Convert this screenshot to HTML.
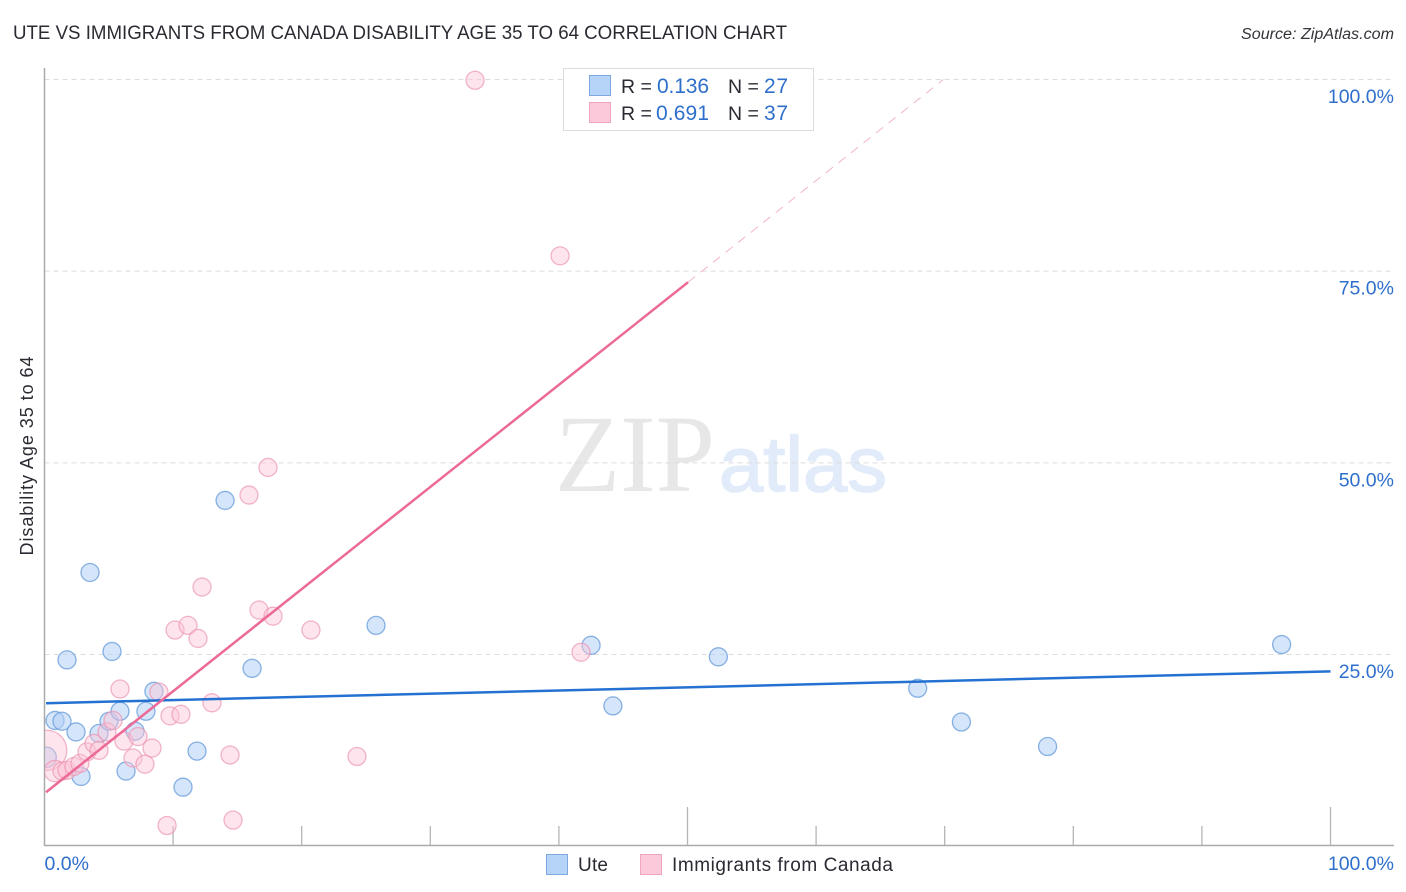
<!DOCTYPE html>
<html lang="en">
<head>
<meta charset="utf-8">
<title>Ute vs Immigrants from Canada Disability Age 35 to 64 Correlation Chart</title>
<style>
html,body{margin:0;padding:0;background:#fff;width:1406px;height:892px;overflow:hidden}
svg{display:block;font-family:"Liberation Sans",sans-serif}
</style>
</head>
<body>
<svg id="chart" xmlns="http://www.w3.org/2000/svg" width="1406" height="892" viewBox="0 0 1406 892">
  <text x="13" y="39" font-size="19.5" fill="#2a2a33" textLength="774" lengthAdjust="spacingAndGlyphs">UTE VS IMMIGRANTS FROM CANADA DISABILITY AGE 35 TO 64 CORRELATION CHART</text>
  <text x="1241" y="39" font-size="15.5" font-style="italic" fill="#33333a" textLength="153" lengthAdjust="spacingAndGlyphs">Source: ZipAtlas.com</text>
  <g>
    <text x="555" y="491" font-family="'Liberation Serif',serif" font-size="110" fill="#e7e7e7" textLength="160" lengthAdjust="spacingAndGlyphs">ZIP</text>
    <text x="719" y="491" font-size="78" fill="#e2ebf9" stroke="#e2ebf9" stroke-width="1.5" textLength="168" lengthAdjust="spacingAndGlyphs">atlas</text>
  </g>
  <g id="grid"></g>
  <g id="axes"></g>
  <svg x="45" y="60" width="1361" height="786" viewBox="45 60 1361 786" overflow="hidden">
    <g id="points-ute"></g>
    <g id="points-imm"></g>
  </svg>
  <g id="trends"></g>
  <text transform="translate(33 456) rotate(-90)" font-size="18" fill="#2a2a33" text-anchor="middle" textLength="199">Disability Age 35 to 64</text>

  <g>
    <rect x="563.5" y="68.5" width="250" height="62" fill="#fff" stroke="#dcdcdc" stroke-width="1"/>
    <rect x="589.5" y="75.5" width="21" height="20" fill="#b6d3f8" stroke="#7ea9e0"/>
    <rect x="589.5" y="102.5" width="21" height="20" fill="#fcc9da" stroke="#efa5bf"/>
    <text x="621" y="93" font-size="19.5" fill="#2a2a33">R =</text>
    <text x="657" y="93" font-size="21" fill="#2f6fcc" textLength="52">0.136</text>
    <text x="728" y="93" font-size="19.5" fill="#2a2a33">N =</text>
    <text x="764" y="93" font-size="21" fill="#2f6fcc" textLength="24">27</text>
    <text x="621" y="120" font-size="19.5" fill="#2a2a33">R =</text>
    <text x="656" y="120" font-size="21" fill="#2f6fcc" textLength="53">0.691</text>
    <text x="728" y="120" font-size="19.5" fill="#2a2a33">N =</text>
    <text x="764" y="120" font-size="21" fill="#2f6fcc" textLength="24">37</text>
  </g>

  <g>
    <rect x="546.5" y="854.5" width="21" height="20" fill="#b6d3f8" stroke="#7ea9e0"/>
    <text x="578" y="871" font-size="19" fill="#2a2a33" textLength="30">Ute</text>
    <rect x="640.5" y="854.5" width="21" height="20" fill="#fcc9da" stroke="#efa5bf"/>
    <text x="672" y="871" font-size="19" fill="#2a2a33" textLength="221">Immigrants from Canada</text>
  </g>
</svg>
<script>
// Chart data (percent values)
const uteX = [0.12,0.82,1.36,2.45,1.75,2.84,3.54,4.24,5.02,5.25,5.87,6.34,7.04,7.89,8.51,10.77,11.86,14.04,16.14,25.78,42.5,44.2,52.4,67.9,71.3,78.0,96.2];
const uteY = [11.6,16.4,16.3,14.9,24.3,9.1,35.7,14.7,16.3,25.4,17.6,9.8,15.0,17.6,20.2,7.7,12.4,45.1,23.2,28.8,26.2,18.3,24.7,20.6,16.2,13.0,26.3];
const immX = [0.17,0.82,1.36,1.75,2.29,2.76,3.3,3.85,4.24,4.86,5.33,6.18,7.27,6.88,7.81,8.36,5.87,8.9,9.76,10.61,13.02,14.43,9.53,14.66,10.15,11.16,11.94,12.25,15.9,17.38,16.68,17.77,20.72,24.3,41.72,40.09,33.48];
const immY = [12.5,9.8,9.8,9.9,10.4,10.8,12.3,13.4,12.5,14.9,16.4,13.7,14.3,11.5,10.7,12.8,20.5,20.1,17.0,17.2,18.7,11.9,2.7,3.4,28.2,28.8,27.1,33.8,45.8,49.4,30.8,30.0,28.2,11.7,25.3,77.0,99.9];
const immWeight = [5,1.4,1,1,1,1,1,1,1,1,1,1,1,1,1,1,1,1,1,1,1,1,1,1,1,1,1,1,1,1,1,1,1,1,1,1,1];
const uteWeight = [1.3,1,1,1,1,1,1,1,1,1,1,1,1,1,1,1,1,1,1,1,1,1,1,1,1,1,1];
const uteTrendX = [0.12,100];
const uteTrendY = [18.65,22.8];
const immTrendX = [0.12,50.04];
const immTrendY = [7.04,73.56];
const immDashX = [50.04,69.9];
const immDashY = [73.56,100];
const xTicks = [10,20,30,40,50,60,70,80,90,100];
const xMajorTicks = [50,100];
const yTicks = [25,50,75,100];
const yTickLabels = ['25.0%','50.0%','75.0%','100.0%'];
const xEndValues = [0,100];
const xEndLabels = ['0.0%','100.0%'];

const NS = 'http://www.w3.org/2000/svg';
function sx(v){ return 44.5 + v * 12.86; }
function sy(v){ return 846.2 - v * 7.667; }
function radius(w){ return 9 * Math.sqrt(w); }
function make(tag, parent, attrs){
  const el = document.createElementNS(NS, tag);
  Object.keys(attrs).forEach(function(k){ el.setAttribute(k, attrs[k]); });
  parent.appendChild(el);
  return el;
}

const gridG = document.getElementById('grid');
const axesG = document.getElementById('axes');

yTicks.forEach(function(v, i){
  const line = make('line', gridG, {x1:44.5, x2:1394, y1:sy(v), y2:sy(v), stroke:'#dcdcdc', 'stroke-width':1, 'stroke-dasharray':'5 4'});
  
  
  const t = make('text', axesG, {x:1394, y:sy(v) + 23.5, 'font-size':19.5, fill:'#2f6fcc', 'text-anchor':'end'});
  
  
  t.textContent = yTickLabels[i];
});

const yAxis = make('line', axesG, {x1:44.5, x2:44.5, y1:68, y2:846, stroke:'#aaaaaa', 'stroke-width':1.5});


const xAxis = make('line', axesG, {x1:44, x2:1394, y1:845.5, y2:845.5, stroke:'#aaaaaa', 'stroke-width':1.5});



xTicks.forEach(function(v){
  const top = xMajorTicks.indexOf(v) >= 0 ? 807 : 826;
  const tick = make('line', axesG, {x1:sx(v), x2:sx(v), y1:top, y2:845, stroke:'#b5b5b5', 'stroke-width':1.3});
  
  
});

xEndValues.forEach(function(v, i){
  const anchorX = i === 0 ? sx(v) : 1394;
  const t = make('text', axesG, {x:anchorX, y:870, 'font-size':19.5, fill:'#2f6fcc', 'text-anchor': i === 0 ? 'start' : 'end'});
  
  
  t.textContent = xEndLabels[i];
});

const uteG = document.getElementById('points-ute');
const immG = document.getElementById('points-imm');

immX.forEach(function(v, i){
  const c = make('circle', immG, {cx:sx(v), cy:sy(immY[i]), r:radius(immWeight[i]), fill:'#fcc5d8', 'fill-opacity':0.45, stroke:'#eb96b4', 'stroke-opacity':0.7, 'stroke-width':1.3});
  
  
});
uteX.forEach(function(v, i){
  const c = make('circle', uteG, {cx:sx(v), cy:sy(uteY[i]), r:radius(uteWeight[i]), fill:'#b3d0f5', 'fill-opacity':0.55, stroke:'#6c9fdc', 'stroke-opacity':0.8, 'stroke-width':1.3});
  
  
});

const trendG = document.getElementById('trends');
const uteLine = make('line', trendG, {x1:sx(uteTrendX[0]), y1:sy(uteTrendY[0]), x2:sx(uteTrendX[1]), y2:sy(uteTrendY[1]), stroke:'#2471d2', 'stroke-width':2.5});


const immLine = make('line', trendG, {x1:sx(immTrendX[0]), y1:sy(immTrendY[0]), x2:sx(immTrendX[1]), y2:sy(immTrendY[1]), stroke:'#ec6a97', 'stroke-width':2.5});


const immDash = make('line', trendG, {x1:sx(immDashX[0]), y1:sy(immDashY[0]), x2:sx(immDashX[1]), y2:sy(immDashY[1]), stroke:'#f3b3c9', 'stroke-width':1, 'stroke-dasharray':'9 7'});


</script>
</body>
</html>
